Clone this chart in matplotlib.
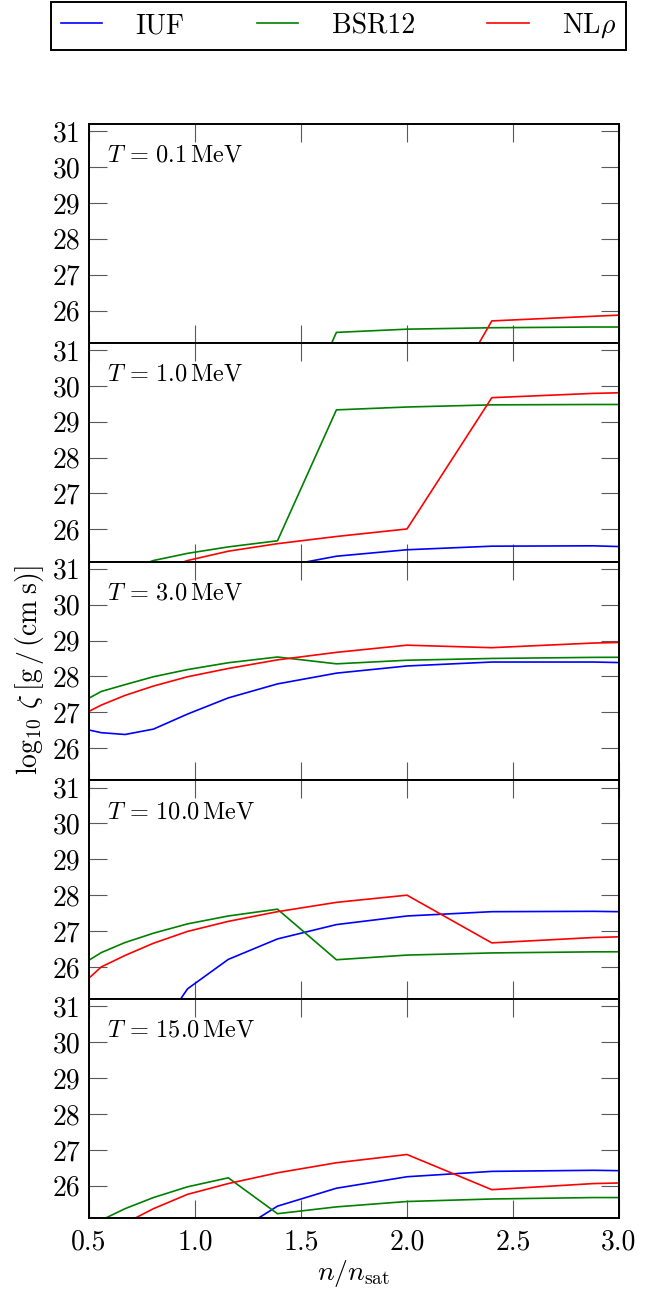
import numpy as np
import matplotlib
matplotlib.use("Agg")
import matplotlib.pyplot as plt

plt.rcParams['font.family'] = 'serif'
plt.rcParams['font.serif'] = ['cmr10', 'DejaVu Serif']
plt.rcParams['mathtext.fontset'] = 'cm'
plt.rcParams['axes.formatter.use_mathtext'] = True

nan = np.nan
# density grid n / n_sat
n = [0.465, 0.558, 0.670, 0.804, 0.965, 1.157, 1.389, 1.667, 2.000, 2.400, 2.880, 3.456]

temps = ["0.1", "1.0", "3.0", "10.0", "15.0"]
labels = ["IUF", "BSR12", r"NL$\rho$"]
colors = ["#0000ff", "#008000", "#ff0000"]

# log10 zeta values, per temperature: IUF, BSR12, NLrho
iuf_T01 = [nan, nan, nan, nan, nan, nan, nan, nan, nan, nan, nan, nan]
bsr_T01 = [nan, nan, nan, nan, nan, nan, 21.7, 25.39, 25.48, 25.52, 25.54, 25.54]
nlr_T01 = [nan, nan, nan, nan, nan, nan, nan, nan, 21.6, 25.71, 25.84, 25.99]

iuf_T1 = [nan, nan, nan, nan, nan, nan, 24.94, 25.25, 25.43, 25.53, 25.54, 25.44]
bsr_T1 = [24.3, 24.5, 24.85, 25.13, 25.33, 25.51, 25.68, 29.33, 29.41, 29.47, 29.48, 29.48]
nlr_T1 = [23.6, 24.0, 24.4, 24.80, 25.13, 25.39, 25.60, 25.80, 26.01, 29.67, 29.79, 29.87]

iuf_T3 = [26.55, 26.43, 26.38, 26.53, 26.95, 27.40, 27.79, 28.09, 28.29, 28.40, 28.40, 28.33]
bsr_T3 = [27.28, 27.58, 27.77, 27.99, 28.19, 28.38, 28.54, 28.35, 28.45, 28.50, 28.53, 28.54]
nlr_T3 = [26.92, 27.20, 27.47, 27.73, 27.99, 28.22, 28.46, 28.67, 28.87, 28.80, 28.93, 29.00]

iuf_T10 = [nan, nan, nan, 24.00, 25.39, 26.21, 26.78, 27.18, 27.42, 27.54, 27.55, 27.50]
bsr_T10 = [26.06, 26.40, 26.68, 26.94, 27.20, 27.42, 27.61, 26.20, 26.33, 26.39, 26.42, 26.43]
nlr_T10 = [25.50, 26.00, 26.32, 26.66, 26.99, 27.27, 27.54, 27.80, 28.00, 26.67, 26.82, 26.91]

iuf_T15 = [nan, nan, nan, nan, nan, 24.57, 25.43, 25.93, 26.25, 26.40, 26.43, 26.38]
bsr_T15 = [24.75, 25.04, 25.36, 25.67, 25.97, 26.22, 25.22, 25.41, 25.56, 25.63, 25.67, 25.67]
nlr_T15 = [24.20, 24.60, 24.95, 25.36, 25.76, 26.06, 26.36, 26.64, 26.87, 25.89, 26.06, 26.14]

panels = [
    (iuf_T01, bsr_T01, nlr_T01),
    (iuf_T1, bsr_T1, nlr_T1),
    (iuf_T3, bsr_T3, nlr_T3),
    (iuf_T10, bsr_T10, nlr_T10),
    (iuf_T15, bsr_T15, nlr_T15),
]

yticks = [26, 27, 28, 29, 30, 31]
xticks = [0.5, 1.0, 1.5, 2.0, 2.5, 3.0]
xticklabels = ["0.5", "1.0", "1.5", "2.0", "2.5", "3.0"]

W, H = 663, 1291
fig = plt.figure(figsize=(W / 100, H / 100), dpi=100)
left, right = 89 / W, 619 / W
top, bottom = 1 - 124 / H, 1 - 1218 / H
axes = fig.subplots(5, 1, sharex=True)
fig.subplots_adjust(left=left, right=right, top=top, bottom=bottom, hspace=0)

handles = []
for i, (ax, T, series) in enumerate(zip(axes, temps, panels)):
    for s, c, lab in zip(series, colors, labels):
        h, = ax.plot(n, s, color=c, lw=1.2, label=lab)
        if i == 0:
            handles.append(h)
    ax.set_xlim(0.5, 3.0)
    ax.set_ylim(25.1, 31.2)
    ax.set_yticks(yticks)
    ax.set_yticklabels([str(v) for v in yticks])
    ax.set_xticks(xticks)
    ax.tick_params(direction='in', length=13, width=0.8, color='0.35',
                   top=True, right=True, labelsize=20, pad=6)
    ax.tick_params(axis='x', pad=8)
    for sp in ax.spines.values():
        sp.set_linewidth(1.4)
    ax.text(0.034, 0.855, r"$T\, =\, %s\,\mathrm{MeV}$" % T, transform=ax.transAxes,
            fontsize=17.5, ha='left', va='center')

axes[-1].set_xticklabels(xticklabels)
axes[-1].set_xlabel(r"$n/n_\mathrm{sat}$", fontsize=20, labelpad=2)

fig.text(30 / W, 1 - 670 / H,
         r"$\log_{10}\,\zeta\;[\mathrm{g}\,/\,(\mathrm{cm}\;\mathrm{s})]$",
         rotation=90, fontsize=20, ha='center', va='center')

leg = fig.legend(handles, labels, loc='upper center',
                 bbox_to_anchor=(338.5 / W, 1 - 2 / H),
                 ncol=3, fontsize=20, handlelength=1.5,
                 handletextpad=1.2, columnspacing=2.6, borderaxespad=0.0,
                 fancybox=False, framealpha=1.0, edgecolor='k', borderpad=0.35)
leg.get_frame().set_linewidth(1.4)

fig.savefig("out.png", dpi=100)
